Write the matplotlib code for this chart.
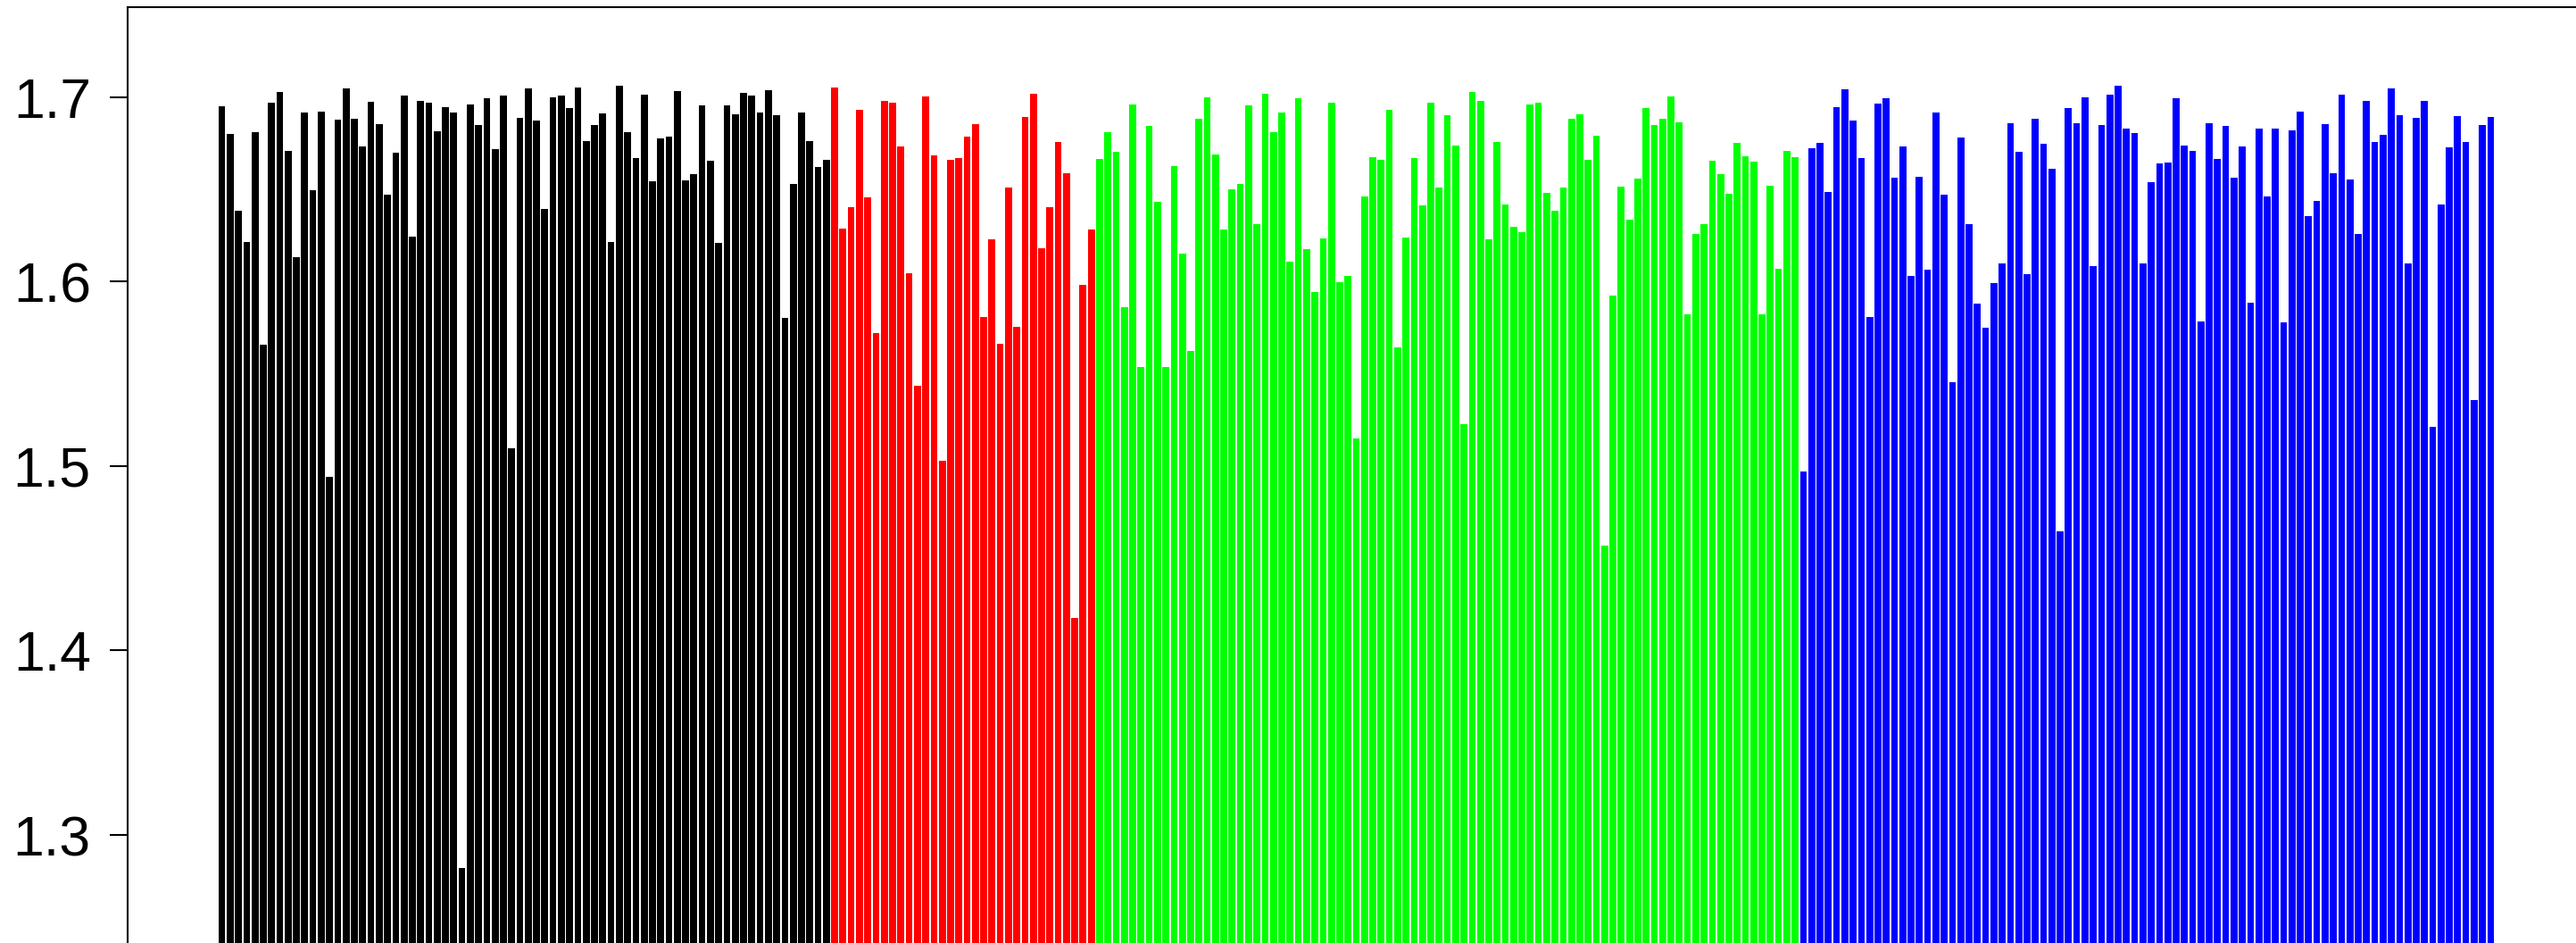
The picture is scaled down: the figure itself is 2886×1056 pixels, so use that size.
import numpy as np
import matplotlib.pyplot as plt

# values, one list per colour group
black_vals = [
    1.6950, 1.6800, 1.6383, 1.6214, 1.6809, 1.5657, 1.6969, 1.7027, 1.6708, 1.6132,
    1.6916, 1.6495, 1.6921, 1.4941, 1.6877, 1.7046, 1.6882, 1.6732, 1.6974, 1.6853,
    1.6470, 1.6698, 1.7008, 1.6243, 1.6979, 1.6969, 1.6814, 1.6945, 1.6916, 1.2822,
    1.6959, 1.6848, 1.6993, 1.6717, 1.7008, 1.5096, 1.6887, 1.7046, 1.6872, 1.6393,
    1.6998, 1.7008, 1.6940, 1.7051, 1.6761, 1.6848, 1.6911, 1.6214, 1.7061, 1.6809,
    1.6669, 1.7013, 1.6543, 1.6775, 1.6785, 1.7032, 1.6548, 1.6582, 1.6954, 1.6654,
    1.6209, 1.6954, 1.6906, 1.7022, 1.7008, 1.6916, 1.7037, 1.6901, 1.5803, 1.6529,
    1.6916, 1.6761, 1.6621, 1.6659,
]
red_vals = [
    1.7051, 1.6287, 1.6403, 1.6930, 1.6456, 1.5720, 1.6979, 1.6969, 1.6732, 1.6045,
    1.5435, 1.7003, 1.6683, 1.5028, 1.6659, 1.6669, 1.6785, 1.6853, 1.5807, 1.6228,
    1.5662, 1.6509, 1.5754, 1.6892, 1.7017, 1.6180, 1.6403, 1.6756, 1.6587, 1.4176,
    1.5982, 1.6282,
]
green_vals = [
    1.6664, 1.6809, 1.6703, 1.5861, 1.6959, 1.5536, 1.6843, 1.6432, 1.5536, 1.6625,
    1.6151, 1.5623, 1.6882, 1.6998, 1.6688, 1.6282, 1.6500, 1.6529, 1.6954, 1.6311,
    1.7017, 1.6809, 1.6916, 1.6107, 1.6993, 1.6175, 1.5943, 1.6233, 1.6969, 1.5996,
    1.6030, 1.5149, 1.6461, 1.6674, 1.6659, 1.6930, 1.5643, 1.6238, 1.6669, 1.6412,
    1.6969, 1.6509, 1.6901, 1.6737, 1.5227, 1.7027, 1.6979, 1.6228, 1.6756, 1.6417,
    1.6296, 1.6267, 1.6959, 1.6969, 1.6480, 1.6383, 1.6509, 1.6882, 1.6906, 1.6659,
    1.6790, 1.4568, 1.5924, 1.6514, 1.6335, 1.6558, 1.6940, 1.6848, 1.6882, 1.7003,
    1.6863, 1.5822, 1.6258, 1.6311, 1.6654, 1.6582, 1.6475, 1.6751, 1.6679, 1.6650,
    1.5822, 1.6519, 1.6069, 1.6708, 1.6674,
]
blue_vals = [
    1.4970, 1.6722, 1.6751, 1.6485, 1.6945, 1.7042, 1.6872, 1.6669, 1.5807, 1.6964,
    1.6993, 1.6562, 1.6732, 1.6030, 1.6567, 1.6064, 1.6916, 1.6470, 1.5454, 1.6780,
    1.6311, 1.5880, 1.5749, 1.5991, 1.6098, 1.6858, 1.6703, 1.6040, 1.6882, 1.6746,
    1.6611, 1.4648, 1.6940, 1.6858, 1.6998, 1.6083, 1.6848, 1.7013, 1.7061, 1.6829,
    1.6804, 1.6098, 1.6538, 1.6640, 1.6645, 1.6993, 1.6737, 1.6708, 1.5783, 1.6858,
    1.6664, 1.6843, 1.6562, 1.6732, 1.5885, 1.6829, 1.6461, 1.6829, 1.5778, 1.6819,
    1.6921, 1.6354, 1.6437, 1.6853, 1.6587, 1.7013, 1.6553, 1.6258, 1.6979, 1.6756,
    1.6795, 1.7046, 1.6901, 1.6098, 1.6887, 1.6979, 1.5212, 1.6417, 1.6727, 1.6896,
    1.6756, 1.5357, 1.6848, 1.6892,
]
groups = [black_vals, red_vals, green_vals, blue_vals]
group_colors = ["#000000", "#ff0000", "#00ff00", "#0000ff"]
y_ticks = [1.3, 1.4, 1.5, 1.6, 1.7]

values = np.concatenate(groups)
colors = np.concatenate([[c] * len(g) for g, c in zip(groups, group_colors)])
n = len(values)

# R barplot style: width 1, space 0.2
x = 0.7 + 1.2 * np.arange(n)
lo, hi = 0.2, 1.2 * n
pad = 0.04 * (hi - lo)

W, H = 2886, 1056
fig = plt.figure(figsize=(W / 100, H / 100), dpi=100)
plt.rcParams['font.family'] = ['Liberation Sans', 'DejaVu Sans']

# axes box runs past the right and bottom edges of the (cropped) picture
left_px, top_px = 142.7, 8.3
px_per_unit = 9.277 / 1.2
ax_w = (hi - lo + 2 * pad) * px_per_unit
y_top, y_bot = 1.74855, 1.2
ax_h = (y_top - y_bot) * 2066
ax = fig.add_axes([left_px / W, 1 - (top_px + ax_h) / H, ax_w / W, ax_h / H])

ax.bar(x, values, width=1.0, color=colors, linewidth=0)
ax.set_xlim(lo - pad, hi + pad)
ax.set_ylim(y_bot, y_top)

ax.set_yticks(y_ticks)
ax.set_yticklabels([f"{t:.1f}" for t in y_ticks], fontsize=45)
ax.tick_params(axis='y', direction='out', length=14.4, width=1.5, pad=15)
ax.set_xticks([])
for s in ax.spines.values():
    s.set_linewidth(1.5)

fig.savefig("out.png", dpi=100)
